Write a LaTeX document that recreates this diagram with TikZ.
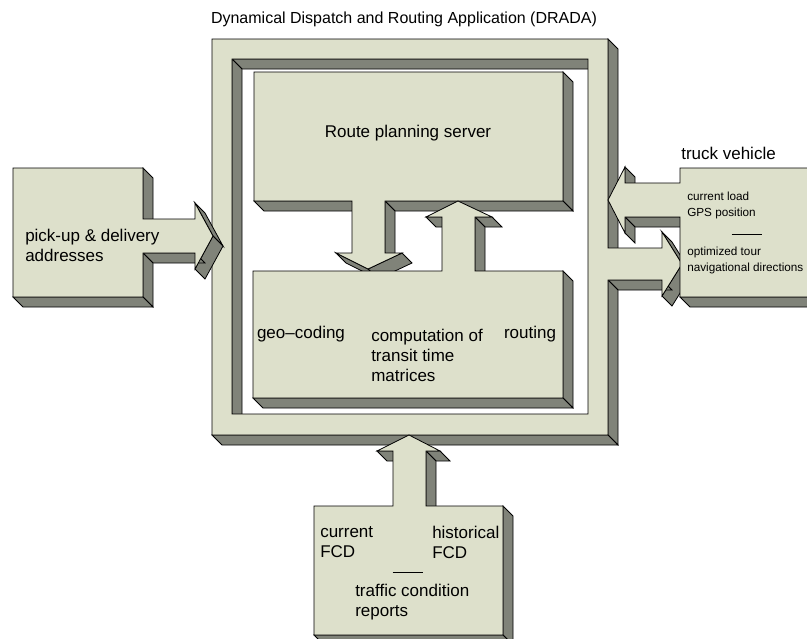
\documentclass[tikz,border=0pt]{standalone}
\usepackage{fontspec}
\setmainfont{Liberation Sans}
\usepackage{tikz}
\definecolor{ff}{RGB}{221,224,203}
\definecolor{ss}{RGB}{128,131,121}
\def\dep{10}
\tikzset{face/.style={fill=ff,draw=black,line width=0.6pt},
	side/.style={fill=ss,draw=black,line width=0.6pt},
	lbl/.style={font=\fontsize{12.75}{15}\selectfont,inner sep=0pt,align=left},
	note/.style={font=\fontsize{8.8}{12}\selectfont,inner sep=0pt,align=left}}
\newcommand{\sides}[1]{\foreach \xa/\ya/\xb/\yb in {#1}{\filldraw[side] (\xa,\ya) -- (\xb,\yb) -- (\xb+\dep,\yb+\dep) -- (\xa+\dep,\ya+\dep) -- cycle;}}
\newcommand{\slab}[3][]{\sides{#2}\filldraw[face,#1] #3;}
\begin{document}
\begin{tikzpicture}[x=0.75pt,y=-0.75pt]
\clip (0,0) rectangle (807,639);
\slab[even odd rule]{608/39/608/248,662/232/682/264,682/264/662/296,662/280/608/280,608/280/608/435,608/435/212/435,232/59/588/59,232/59/232/414}{(212,39) -- (608,39) -- (608,248) -- (662,248) -- (662,232) -- (682,264) -- (662,296) -- (662,280) -- (608,280) -- (608,435) -- (212,435) -- cycle (232,59) rectangle (588,414)}
\slab{143/168/143/219,195/203/213/236,213/236/195/269,195/253/143/253,143/253/143/297,143/297/13/297}{(13,168) -- (143,168) -- (143,219) -- (195,219) -- (195,203) -- (213,236) -- (195,269) -- (195,253) -- (143,253) -- (143,297) -- (13,297) -- cycle}
\slab{830/297/680/297,680/217/625/217,625/217/625/233,625/167/625/183}{(680,168) -- (830,168) -- (830,297) -- (680,297) -- (680,217) -- (625,217) -- (625,233) -- (608,200) -- (625,167) -- (625,183) -- (680,183) -- cycle}
\slab{393/451/377/451,440/451/426/451,426/451/426/506,503/506/503/635,503/635/314/635}{(314,506) -- (393,506) -- (393,451) -- (377,451) -- (409,435) -- (440,451) -- (426,451) -- (426,506) -- (503,506) -- (503,635) -- (314,635) -- cycle}
\slab{563/72/563/201,563/201/385/201,385/201/385/253,402/253/368/269,368/269/336/253,352/201/254/201}{(254,72) -- (563,72) -- (563,201) -- (385,201) -- (385,253) -- (402,253) -- (368,269) -- (336,253) -- (352,253) -- (352,201) -- (254,201) -- cycle}
\slab{442/217/426/217,492/217/475/217,475/217/475/271,563/271/563/398,563/398/253/398}{(253,271) -- (442,271) -- (442,217) -- (426,217) -- (458,201) -- (492,217) -- (475,217) -- (475,271) -- (563,271) -- (563,398) -- (253,398) -- cycle}

\node[font=\fontsize{12}{14}\selectfont,inner sep=0pt] (title) at (404,19) {Dynamical Dispatch and Routing Application (DRADA)};
\node[lbl] (server) at (408,133) {Route planning server};
\node[lbl] (geo) at (301,334) {geo--coding};
\node[lbl,anchor=west] (matrices) at (371,355) {computation of\\transit time\\matrices};
\node[lbl] (routing) at (530,334) {routing};
\node[lbl,anchor=west] (pickup) at (25,245) {pick-up \& delivery\\addresses};
\node[lbl,anchor=west] (truck) at (681,153) {truck vehicle};
\node[note,anchor=west] (load) at (687,205) {current load\\GPS position};
\node[note] (trule) at (747,234) {\rule{23pt}{0.6pt}};
\node[note,anchor=west] (tour) at (687,260) {optimized tour\\navigational directions};
\node[lbl,anchor=west] (cfcd) at (320,542) {current\\FCD};
\node[lbl,anchor=west] (hfcd) at (432,542) {historical\\FCD};
\node[note] (brule) at (408,572) {\rule{23pt}{0.6pt}};
\node[lbl,anchor=west] (traffic) at (355,602) {traffic condition\\reports};
\end{tikzpicture}
\end{document}
